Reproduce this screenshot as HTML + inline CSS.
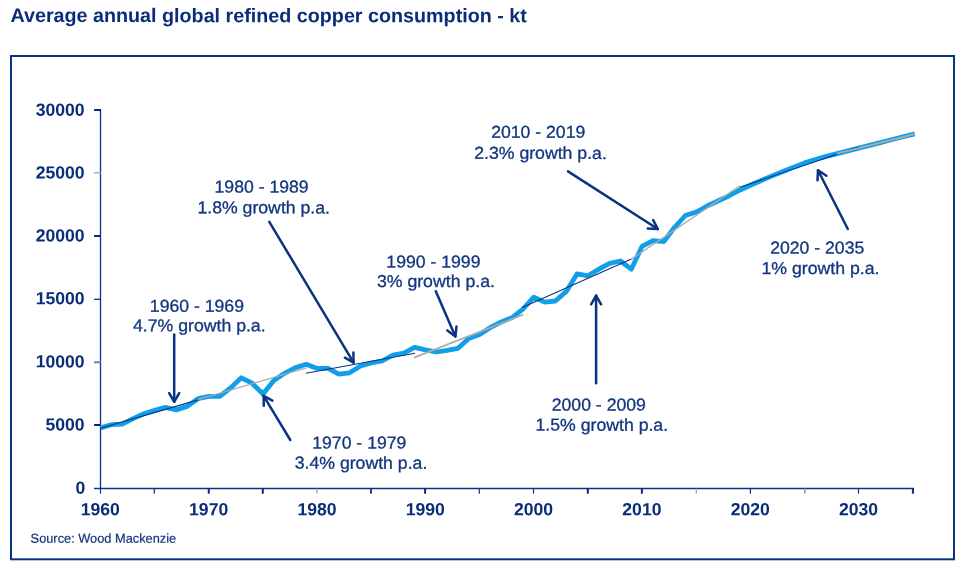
<!DOCTYPE html>
<html lang="en">
<head>
<meta charset="utf-8">
<title>Average annual global refined copper consumption - kt</title>
<style>
html,body{margin:0;padding:0;background:#fff;}
body{width:975px;height:569px;overflow:hidden;position:relative;font-family:"Liberation Sans",Arial,Helvetica,sans-serif;}
svg{position:absolute;left:0;top:0;display:block;}
svg text{font-family:"Liberation Sans",Arial,Helvetica,sans-serif;}
.title{font-weight:bold;font-size:19.7px;fill:#0b2c7b;}
.ax{font-weight:bold;font-size:17.6px;fill:#0b2c7b;}
.lab{font-size:17.2px;fill:#12357f;text-anchor:middle;stroke:#12357f;stroke-width:0.3px;}
.src{font-size:13px;fill:#12357f;stroke:#12357f;stroke-width:0.2px;}
</style>
</head>
<body>
<svg width="975" height="569" viewBox="0 0 975 569">
<rect x="0" y="0" width="975" height="569" fill="#ffffff"/>
<text class="title" transform="translate(10.45,22.05) rotate(0.03)" textLength="516.4" lengthAdjust="spacingAndGlyphs">Average annual global refined copper consumption - kt</text>
<rect x="11" y="56" width="943" height="503.3" fill="none" stroke="#0b3383" stroke-width="2"/>
<g stroke="#0b3383" stroke-width="1.3" fill="none" shape-rendering="auto">
<line x1="100.5" y1="109.6" x2="100.5" y2="489.1"/>
<line x1="94.1" y1="488.5" x2="913.9" y2="488.5"/>
<line x1="94.1" y1="110.0" x2="101.0" y2="110.0" stroke="#05297a" stroke-width="2.0"/>
<line x1="94.1" y1="172.8" x2="101.0" y2="172.8" stroke="#8f9dc4" stroke-width="1.2"/>
<line x1="94.1" y1="236.0" x2="101.0" y2="236.0" stroke="#05297a" stroke-width="2.0"/>
<line x1="94.1" y1="299.3" x2="101.0" y2="299.3" stroke="#0b3383" stroke-width="1.3"/>
<line x1="94.1" y1="362.3" x2="101.0" y2="362.3" stroke="#5f76ae" stroke-width="1.8"/>
<line x1="94.1" y1="425.0" x2="101.0" y2="425.0" stroke="#05297a" stroke-width="2.0"/>
<line x1="100.5" y1="488.5" x2="100.5" y2="493.7" stroke="#0b3383" stroke-width="1.2"/>
<line x1="154.3" y1="488.5" x2="154.3" y2="493.7" stroke="#0b3383" stroke-width="1.2"/>
<line x1="208.75" y1="488.5" x2="208.75" y2="493.7" stroke="#05297a" stroke-width="2.0"/>
<line x1="262.8" y1="488.5" x2="262.8" y2="493.7" stroke="#05297a" stroke-width="2.0"/>
<line x1="317.0" y1="488.5" x2="317.0" y2="493.7" stroke="#8f9dc4" stroke-width="1.2"/>
<line x1="371.0" y1="488.5" x2="371.0" y2="493.7" stroke="#0b3383" stroke-width="1.8"/>
<line x1="425.1" y1="488.5" x2="425.1" y2="493.7" stroke="#05297a" stroke-width="2.0"/>
<line x1="479.3" y1="488.5" x2="479.3" y2="493.7" stroke="#0b3383" stroke-width="1.2"/>
<line x1="533.5" y1="488.5" x2="533.5" y2="493.7" stroke="#0b3383" stroke-width="1.2"/>
<line x1="587.8" y1="488.5" x2="587.8" y2="493.7" stroke="#05297a" stroke-width="2.0"/>
<line x1="641.9" y1="488.5" x2="641.9" y2="493.7" stroke="#05297a" stroke-width="2.0"/>
<line x1="696.3" y1="488.5" x2="696.3" y2="493.7" stroke="#8f9dc4" stroke-width="1.2"/>
<line x1="750.4" y1="488.5" x2="750.4" y2="493.7" stroke="#0b3383" stroke-width="1.2"/>
<line x1="804.8" y1="488.5" x2="804.8" y2="493.7" stroke="#8f9dc4" stroke-width="1.6"/>
<line x1="858.5" y1="488.5" x2="858.5" y2="493.7" stroke="#0b3383" stroke-width="1.2"/>
<line x1="912.9" y1="488.5" x2="912.9" y2="493.7" stroke="#05297a" stroke-width="2.0"/>
</g>
<g class="ax" text-anchor="end">
<text transform="translate(85.20,493.70) rotate(0.03)">0</text>
<text transform="translate(84.60,430.55) rotate(0.03)">5000</text>
<text transform="translate(84.60,367.40) rotate(0.03)">10000</text>
<text transform="translate(84.60,304.35) rotate(0.03)">15000</text>
<text transform="translate(84.60,241.50) rotate(0.03)">20000</text>
<text transform="translate(84.60,178.45) rotate(0.03)">25000</text>
<text transform="translate(84.60,115.80) rotate(0.03)">30000</text>
</g>
<g class="ax" text-anchor="middle">
<text transform="translate(100.30,515.20) rotate(0.03)">1960</text>
<text transform="translate(208.62,515.20) rotate(0.03)">1970</text>
<text transform="translate(316.94,515.20) rotate(0.03)">1980</text>
<text transform="translate(425.26,515.20) rotate(0.03)">1990</text>
<text transform="translate(533.58,515.20) rotate(0.03)">2000</text>
<text transform="translate(641.90,515.20) rotate(0.03)">2010</text>
<text transform="translate(750.22,515.20) rotate(0.03)">2020</text>
<text transform="translate(858.54,515.20) rotate(0.03)">2030</text>
</g>
<polyline points="100.5,427.9 111.3,424.7 122.2,424.2 133.0,418.6 143.8,413.7 154.7,410.4 165.5,407.4 176.3,409.9 187.2,406.4 198.0,398.7 208.8,396.4 219.7,396.4 230.5,388.0 241.3,377.8 252.1,383.2 263.0,394.0 273.8,380.4 284.6,373.3 295.5,367.6 306.3,364.3 317.1,368.4 328.0,368.4 338.8,374.2 349.6,372.8 360.5,366.0 371.3,363.0 382.1,361.0 393.0,355.0 403.8,353.2 414.6,347.4 425.5,349.9 436.3,352.0 447.1,350.4 458.0,348.3 468.8,338.4 479.6,334.6 490.5,327.4 501.3,322.0 512.1,317.6 522.9,309.2 533.8,297.1 544.6,302.2 555.4,301.0 566.3,291.4 577.1,273.8 587.9,275.8 598.8,269.2 609.6,263.3 620.4,261.0 631.3,269.2 642.1,246.3 652.9,240.7 663.8,241.6 674.6,227.3 685.4,215.5 696.3,212.0 707.1,206.0 717.9,201.0 728.8,196.0 739.6,190.2 750.4,185.3 761.3,180.5 772.1,175.9 782.9,171.5 793.7,167.1 804.6,162.9 815.4,159.5 826.2,156.4 837.1,153.6 847.9,150.9 858.7,148.2 869.6,145.4 880.4,142.6 891.2,139.8 902.1,137.0 912.9,134.3 914.7,133.95" fill="none" stroke="#129fea" stroke-width="4.8" stroke-linejoin="round" stroke-linecap="butt"/>
<line x1="100.5" y1="428.2" x2="198.2" y2="399.9" stroke="#0b3383" stroke-width="1.1"/>
<line x1="198.2" y1="399.4" x2="306.5" y2="367.9" stroke="#aaaaac" stroke-width="1.3"/>
<line x1="306.0" y1="373.3" x2="415.0" y2="353.2" stroke="#0b3383" stroke-width="1.1"/>
<line x1="414.0" y1="357.6" x2="523.2" y2="314.6" stroke="#aaaaac" stroke-width="1.7"/>
<line x1="522.2" y1="307.5" x2="631.4" y2="259.1" stroke="#0b3383" stroke-width="1.1"/>
<line x1="631.4" y1="259.1" x2="739.9" y2="185.9" stroke="#aaaaac" stroke-width="1.3"/>
<line x1="739.9" y1="187.3" x2="859.0" y2="146.7" stroke="#0b3383" stroke-width="1.1"/>
<line x1="836.6" y1="153.6" x2="914.2" y2="134.3" stroke="#aaaaac" stroke-width="2.0"/>
<g stroke="#0b3383" stroke-width="2.5" fill="none" stroke-linecap="round" stroke-linejoin="round">
<line x1="174.2" y1="334.6" x2="174.2" y2="401.8"/><polyline points="169.2,393.1 174.2,401.8 179.2,393.1"/>
<line x1="290.3" y1="440.0" x2="263.6" y2="395.8"/><polyline points="272.4,400.6 263.6,395.8 263.8,405.8"/>
<line x1="269.3" y1="221.8" x2="353.6" y2="362.6"/><polyline points="344.9,357.7 353.6,362.6 353.4,352.6"/>
<line x1="435.8" y1="291.2" x2="455.4" y2="336.4"/><polyline points="447.4,330.4 455.4,336.4 456.5,326.5"/>
<line x1="596.1" y1="383.3" x2="596.1" y2="295.6"/><polyline points="601.1,304.3 596.1,295.6 591.1,304.3"/>
<line x1="568.0" y1="171.4" x2="657.8" y2="229.0"/><polyline points="647.8,228.5 657.8,229.0 653.2,220.1"/>
<line x1="847.8" y1="229.0" x2="818.0" y2="170.3"/><polyline points="826.4,175.8 818.0,170.3 817.5,180.3"/>
</g>
<text class="lab" transform="translate(196.90,311.70) rotate(0.03)" textLength="94.1" lengthAdjust="spacingAndGlyphs">1960 - 1969</text>
<text class="lab" transform="translate(199.30,331.25) rotate(0.03)" textLength="132.6" lengthAdjust="spacingAndGlyphs">4.7% growth p.a.</text>
<text class="lab" transform="translate(359.30,448.45) rotate(0.03)" textLength="94.1" lengthAdjust="spacingAndGlyphs">1970 - 1979</text>
<text class="lab" transform="translate(361.00,468.65) rotate(0.03)" textLength="132.6" lengthAdjust="spacingAndGlyphs">3.4% growth p.a.</text>
<text class="lab" transform="translate(261.60,192.55) rotate(0.03)" textLength="94.1" lengthAdjust="spacingAndGlyphs">1980 - 1989</text>
<text class="lab" transform="translate(263.70,213.35) rotate(0.03)" textLength="132.6" lengthAdjust="spacingAndGlyphs">1.8% growth p.a.</text>
<text class="lab" transform="translate(433.40,267.55) rotate(0.03)" textLength="94.1" lengthAdjust="spacingAndGlyphs">1990 - 1999</text>
<text class="lab" transform="translate(435.90,286.95) rotate(0.03)" textLength="118.0" lengthAdjust="spacingAndGlyphs">3% growth p.a.</text>
<text class="lab" transform="translate(598.80,410.55) rotate(0.03)" textLength="94.1" lengthAdjust="spacingAndGlyphs">2000 - 2009</text>
<text class="lab" transform="translate(601.80,430.65) rotate(0.03)" textLength="132.6" lengthAdjust="spacingAndGlyphs">1.5% growth p.a.</text>
<text class="lab" transform="translate(538.20,137.85) rotate(0.03)" textLength="94.1" lengthAdjust="spacingAndGlyphs">2010 - 2019</text>
<text class="lab" transform="translate(540.50,158.85) rotate(0.03)" textLength="132.6" lengthAdjust="spacingAndGlyphs">2.3% growth p.a.</text>
<text class="lab" transform="translate(817.20,253.45) rotate(0.03)" textLength="94.1" lengthAdjust="spacingAndGlyphs">2020 - 2035</text>
<text class="lab" transform="translate(820.50,273.95) rotate(0.03)" textLength="118.0" lengthAdjust="spacingAndGlyphs">1% growth p.a.</text>
<text class="src" transform="translate(30.60,542.70) rotate(0.03)" textLength="145.6" lengthAdjust="spacingAndGlyphs">Source: Wood Mackenzie</text>
</svg>
</body>
</html>
